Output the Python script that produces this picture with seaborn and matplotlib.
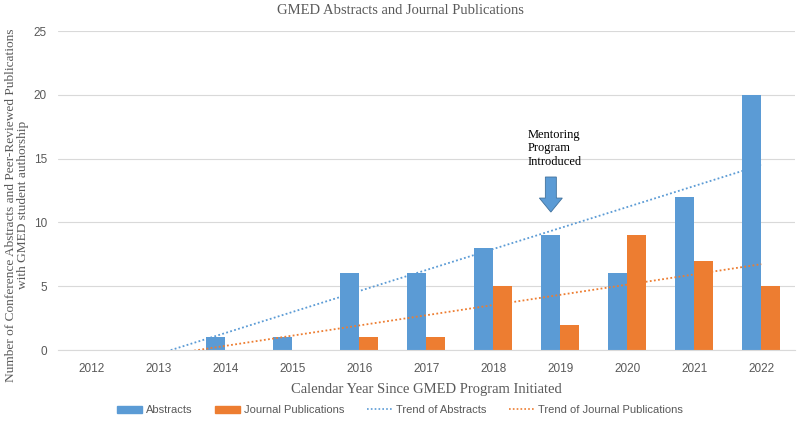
import numpy as np
import pandas as pd
import seaborn as sns
import matplotlib
matplotlib.use("Agg")
import matplotlib.pyplot as plt
from matplotlib.patches import Patch, FancyArrow
from matplotlib.lines import Line2D

years = ["2012", "2013", "2014", "2015", "2016", "2017", "2018", "2019", "2020", "2021", "2022"]
abstracts = [0, 0, 1, 1, 6, 6, 8, 9, 6, 12, 20]
journals = [0, 0, 0, 0, 1, 1, 5, 2, 9, 7, 5]
series_names = ["Abstracts", "Journal Publications"]

df = pd.DataFrame({
    "Year": years * 2,
    "Count": abstracts + journals,
    "Series": [series_names[0]] * len(years) + [series_names[1]] * len(years),
})

sns.set_style("white")
plt.rcParams['font.family'] = ['Liberation Sans', 'DejaVu Sans']

blue = "#5B9BD5"
orange = "#ED7D31"
grey = "#595959"
serif = ['Liberation Serif', 'DejaVu Serif']

fig = plt.figure(figsize=(8, 4.21), dpi=100)
ax = fig.add_axes([0.0725, 0.1686, 0.921, 0.7577])

sns.barplot(data=df, x="Year", y="Count", hue="Series", palette=[blue, orange],
            width=0.567, ax=ax, legend=False, saturation=1, linewidth=0)

# linear trendlines (Excel-style)
xs = np.arange(len(years))
dot = (0, (1, 1.3))
for vals, col in [(abstracts, blue), (journals, orange)]:
    m, b = np.polyfit(xs, vals, 1)
    xx = np.linspace(0, len(years) - 1, 200)
    ax.plot(xx, m * xx + b, linestyle=dot, color=col, lw=1.3, zorder=3)

ax.set_ylim(0, 25)
ax.set_xlim(-0.5, len(years) - 0.5)
ax.set_yticks([0, 5, 10, 15, 20, 25])
ax.yaxis.grid(True, color="#D9D9D9", lw=0.8)
ax.set_axisbelow(True)
for s in ["top", "right", "left"]:
    ax.spines[s].set_visible(False)
ax.spines["bottom"].set_color("#D9D9D9")
ax.tick_params(axis="both", length=0, labelsize=8.5, colors=grey)
ax.tick_params(axis="y", pad=8)
ax.tick_params(axis="x", pad=9)

fig.text(0.5, 1 - 11 / 421, "GMED Abstracts and Journal Publications", family=serif,
         fontsize=10.5, color=grey, ha="center", va="center")
ax.set_xlabel("Calendar Year Since GMED Program Initiated", family=serif, fontsize=10.5,
              color=grey, labelpad=6)
ax.set_ylabel("Number of Conference Abstracts and Peer-Reviewed Publications\nwith GMED student authorship",
              family=serif, fontsize=9.6, color=grey, linespacing=1.0)
ax.yaxis.set_label_coords(-0.039, 0.455)

# annotation
ax.text(6.51, 17.35, "Mentoring\nProgram\nIntroduced", family=serif, fontsize=9,
        color="black", va="top", ha="left", linespacing=1.2)
ax.add_patch(FancyArrow(6.858, 13.56, 0, -2.75, width=0.164, head_width=0.343,
                        head_length=1.1, length_includes_head=True,
                        fc=blue, ec="#41719C", lw=0.6, zorder=4))

handles = [
    Patch(color=blue, label="Abstracts"),
    Patch(color=orange, label="Journal Publications"),
    Line2D([0], [0], color=blue, linestyle=dot, lw=1.2, label="Trend of Abstracts"),
    Line2D([0], [0], color=orange, linestyle=dot, lw=1.2, label="Trend of Journal Publications"),
]
fig.legend(handles=handles, loc="center", bbox_to_anchor=(0.5, 1 - 410 / 421), ncol=4, frameon=False,
           fontsize=8, labelcolor=grey, handlelength=2.3, handleheight=0.6, handletextpad=0.35,
           columnspacing=2.0)

fig.savefig("out.png", dpi=100)
